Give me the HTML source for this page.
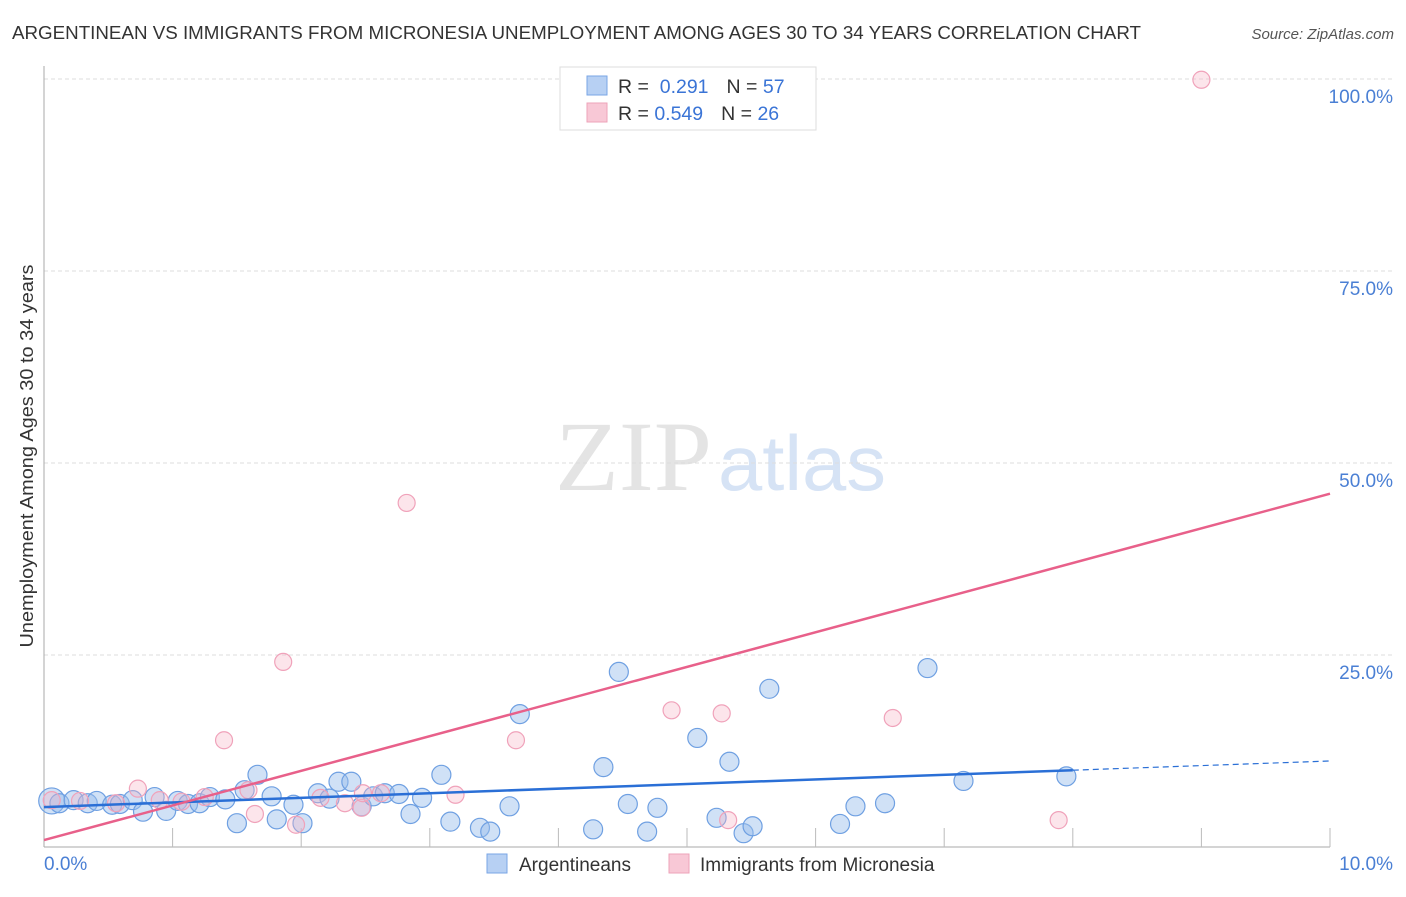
<!DOCTYPE html>
<html><head><meta charset="utf-8"><style>
body{margin:0;background:#fff;font-family:"Liberation Sans",sans-serif;}
svg text{font-family:"Liberation Sans",sans-serif;}
</style></head><body>
<svg id="chart" width="1406" height="892">
<text x="12" y="39" font-size="18" fill="#333" textLength="1129" lengthAdjust="spacingAndGlyphs">ARGENTINEAN VS IMMIGRANTS FROM MICRONESIA UNEMPLOYMENT AMONG AGES 30 TO 34 YEARS CORRELATION CHART</text>
<text x="1394" y="39" font-size="15" fill="#555" font-style="italic" text-anchor="end">Source: ZipAtlas.com</text>
<text x="555" y="490" font-size="100" fill="#e4e4e4" textLength="157" lengthAdjust="spacingAndGlyphs" style="font-family:'Liberation Serif',serif">ZIP</text>
<text x="718" y="490" font-size="78" fill="#d6e3f5" textLength="168" lengthAdjust="spacingAndGlyphs">atlas</text>
<g id="grid"></g>
<g id="axes"></g>
<g id="pts"></g>
<g id="lines"></g>
<text transform="translate(33,456) rotate(-90)" font-size="18" fill="#333" text-anchor="middle" textLength="383" lengthAdjust="spacingAndGlyphs">Unemployment Among Ages 30 to 34 years</text>
<text x="44" y="870" font-size="19" fill="#4a7fd4">0.0%</text>
<text x="1393" y="870" font-size="19" fill="#4a7fd4" text-anchor="end">10.0%</text>
<g>
<rect x="560" y="67" width="256" height="63" fill="#fff" stroke="#ddd"/>
<rect x="587" y="76" width="20" height="19" fill="#b7d0f3" stroke="#7aa6e6"/>
<rect x="587" y="103" width="20" height="19" fill="#f8c8d6" stroke="#eea3b9"/>
<text x="618" y="93" font-size="19.5" fill="#333">R = <tspan fill="#3a74d6">&#160;0.291</tspan><tspan dx="18">N = </tspan><tspan fill="#3a74d6">57</tspan></text>
<text x="618" y="120" font-size="19.5" fill="#333">R = <tspan fill="#3a74d6">0.549</tspan><tspan dx="18">N = </tspan><tspan fill="#3a74d6">26</tspan></text>
</g>
<g>
<rect x="487" y="854" width="20" height="19" fill="#b7d0f3" stroke="#7aa6e6"/>
<text x="519" y="871" font-size="19" fill="#333">Argentineans</text>
<rect x="669" y="854" width="20" height="19" fill="#f8c8d6" stroke="#eea3b9"/>
<text x="700" y="871" font-size="19" fill="#333">Immigrants from Micronesia</text>
</g>
</svg>
<script>
const blueX=[0.06,0.12,0.23,0.34,0.41,0.53,0.59,0.69,0.77,0.86,0.95,1.04,1.12,1.21,1.29,1.41,1.50,1.56,1.66,1.77,1.81,1.94,2.01,2.13,2.22,2.29,2.39,2.47,2.56,2.65,2.76,2.85,2.94,3.09,3.16,3.39,3.47,3.62,3.70,4.27,4.35,4.47,4.54,4.69,4.77,5.08,5.23,5.33,5.44,5.51,5.64,6.19,6.31,6.54,6.87,7.15,7.95];
const blueY=[6.0,5.7,6.1,5.7,6.0,5.5,5.6,6.1,4.6,6.5,4.7,6.0,5.6,5.7,6.5,6.2,3.1,7.4,9.4,6.6,3.6,5.5,3.1,7.0,6.3,8.5,8.5,5.3,6.6,7.0,6.9,4.3,6.4,9.4,3.3,2.5,2.0,5.3,17.3,2.3,10.4,22.8,5.6,2.0,5.1,14.2,3.8,11.1,1.8,2.7,20.6,3.0,5.3,5.7,23.3,8.6,9.2];
const pinkX=[0.06,0.28,0.56,0.73,0.90,1.07,1.25,1.40,1.59,1.64,1.86,1.96,2.15,2.34,2.47,2.62,2.82,3.20,3.67,4.88,5.27,5.32,6.60,7.89,9.00,2.48];
const pinkY=[6.1,6.0,5.7,7.6,6.1,5.9,6.5,13.9,7.4,4.3,24.1,2.9,6.4,5.7,5.1,7.0,44.8,6.8,13.9,17.8,17.4,3.5,16.8,3.5,99.9,7.0];
const yTicks=[25,50,75,100];
const yTickLabels=["25.0%","50.0%","75.0%","100.0%"];
const xTicks=[1,2,3,4,5,6,7,8,9,10];
const blueTrend=[5.2,10.0]; // at x=0 and x=8
const pinkTrend=[0.9,46.0]; // at x=0 and x=10
const NS="http://www.w3.org/2000/svg";
const X=v=>44+v*128.6, Y=v=>847-v*7.68;
function mk(tag,attrs,parent){const e=document.createElementNS(NS,tag);for(const k in attrs)e.setAttribute(k,attrs[k]);document.getElementById(parent).appendChild(e);return e;}
yTicks.forEach((t,i)=>{
 const g=mk('line',{x1:44,x2:1393,y1:Y(t),y2:Y(t),stroke:'#ddd','stroke-dasharray':'4,3'},'grid');
 
 
 const tx=mk('text',{x:1393,y:Y(t)+24,'font-size':19,fill:'#4a7fd4','text-anchor':'end'},'grid');
 tx.textContent=yTickLabels[i];
 
 
});
const ax=mk('line',{x1:44,x2:44,y1:66,y2:847,stroke:'#aaa'},'axes');


const bx=mk('line',{x1:44,x2:1330,y1:847,y2:847,stroke:'#aaa'},'axes');


xTicks.forEach(t=>{const l=mk('line',{x1:X(t),x2:X(t),y1:828,y2:847,stroke:'#bbb'},'axes');
 
 });
blueX.forEach((v,i)=>{const c=mk('circle',{cx:X(v),cy:Y(blueY[i]),r:i==0?13:9.5,fill:'rgba(150,188,236,0.45)',stroke:'#6fa0e2','stroke-width':1.2},'pts');
 
 });
pinkX.forEach((v,i)=>{const c=mk('circle',{cx:X(v),cy:Y(pinkY[i]),r:8.5,fill:'rgba(246,180,198,0.35)',stroke:'#f0a2ba','stroke-width':1.2},'pts');
 
 });
const bl=mk('line',{x1:X(0),y1:Y(blueTrend[0]),x2:X(8),y2:Y(blueTrend[1]),stroke:'#2a6fd6','stroke-width':2.5},'lines');


const slope=(blueTrend[1]-blueTrend[0])/8;
const bd=mk('line',{x1:X(8),y1:Y(blueTrend[1]),x2:X(10),y2:Y(blueTrend[1]+2*slope),stroke:'#2a6fd6','stroke-width':1.2,'stroke-dasharray':'6,4'},'lines');


const pl=mk('line',{x1:X(0),y1:Y(pinkTrend[0]),x2:X(10),y2:Y(pinkTrend[1]),stroke:'#e8608a','stroke-width':2.5},'lines');


</script>
</body></html>
